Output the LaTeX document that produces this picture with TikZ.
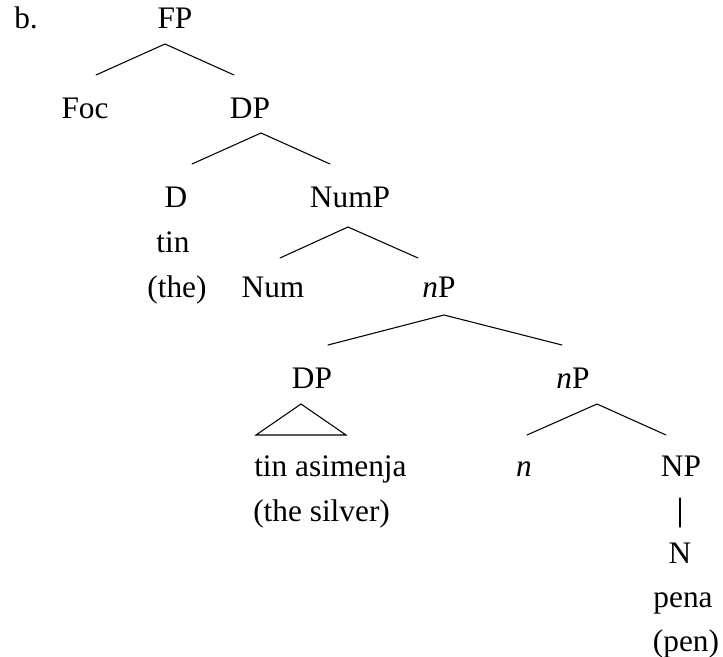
\documentclass[tikz,border=0pt]{standalone}
\usepackage{fontspec}
\setmainfont{Liberation Serif}
\begin{document}
\begin{tikzpicture}[x=0.75pt,y=-0.75pt,
  lab/.style={inner sep=0pt,anchor=base,font=\fontsize{23.5pt}{28pt}\selectfont},
  labw/.style={lab,anchor=base west},
  branch/.style={line width=0.8pt,line cap=round}]
\useasboundingbox (0,0) rectangle (723,656);
% labels
\node[labw] (b) at (14,29) {b.};
\node[lab] (FP) at (175,29) {FP};
\node[lab] (Foc) at (85,118) {Foc};
\node[lab] (DPa) at (250,118) {DP};
\node[lab] (D) at (176,207) {D};
\node[lab] (NumP) at (350,207) {NumP};
\node[lab] (tin) at (173,252) {tin};
\node[lab] (the) at (177,297) {(the)};
\node[lab] (Num) at (273,297) {Num};
\node[lab] (nPa) at (439,297) {\textit{n}P};
\node[lab] (DPb) at (312,388) {DP};
\node[lab] (nPb) at (573,388) {\textit{n}P};
\node[labw] (tinas) at (254,476) {tin asimenja};
\node[labw] (silver) at (253,521) {(the silver)};
\node[lab] (n) at (524,476) {\textit{n}};
\node[lab] (NP) at (681,476) {NP};
\node[lab] (N) at (680,563) {N};
\node[lab] (pena) at (683,607) {pena};
\node[lab] (pen) at (686,651) {(pen)};
% branch points
\coordinate (FPt) at (165,44);
\coordinate (FPl) at (96,75);
\coordinate (FPr) at (234,75);
\coordinate (DPat) at (261,133);
\coordinate (DPal) at (192,164);
\coordinate (DPar) at (330,164);
\coordinate (NumPt) at (348,227);
\coordinate (NumPl) at (280,258);
\coordinate (NumPr) at (418,258);
\coordinate (nPat) at (444,315);
\coordinate (nPal) at (328,345);
\coordinate (nPar) at (562,345);
\coordinate (DPbt) at (301,404);
\coordinate (DPbl) at (256,435);
\coordinate (DPbr) at (346,435);
\coordinate (nPbt) at (597,404);
\coordinate (nPbl) at (527,435);
\coordinate (nPbr) at (666,435);
\coordinate (NPb) at (680,498);
\coordinate (Nt) at (680,527);
% branches
\draw[branch] (FPl) -- (FPt) -- (FPr);
\draw[branch] (DPal) -- (DPat) -- (DPar);
\draw[branch] (NumPl) -- (NumPt) -- (NumPr);
\draw[branch] (nPal) -- (nPat) -- (nPar);
\draw[branch] (DPbl) -- (DPbt) -- (DPbr) -- cycle;
\draw[branch] (nPbl) -- (nPbt) -- (nPbr);
\draw[branch] (NPb) -- (Nt);
\end{tikzpicture}
\end{document}
